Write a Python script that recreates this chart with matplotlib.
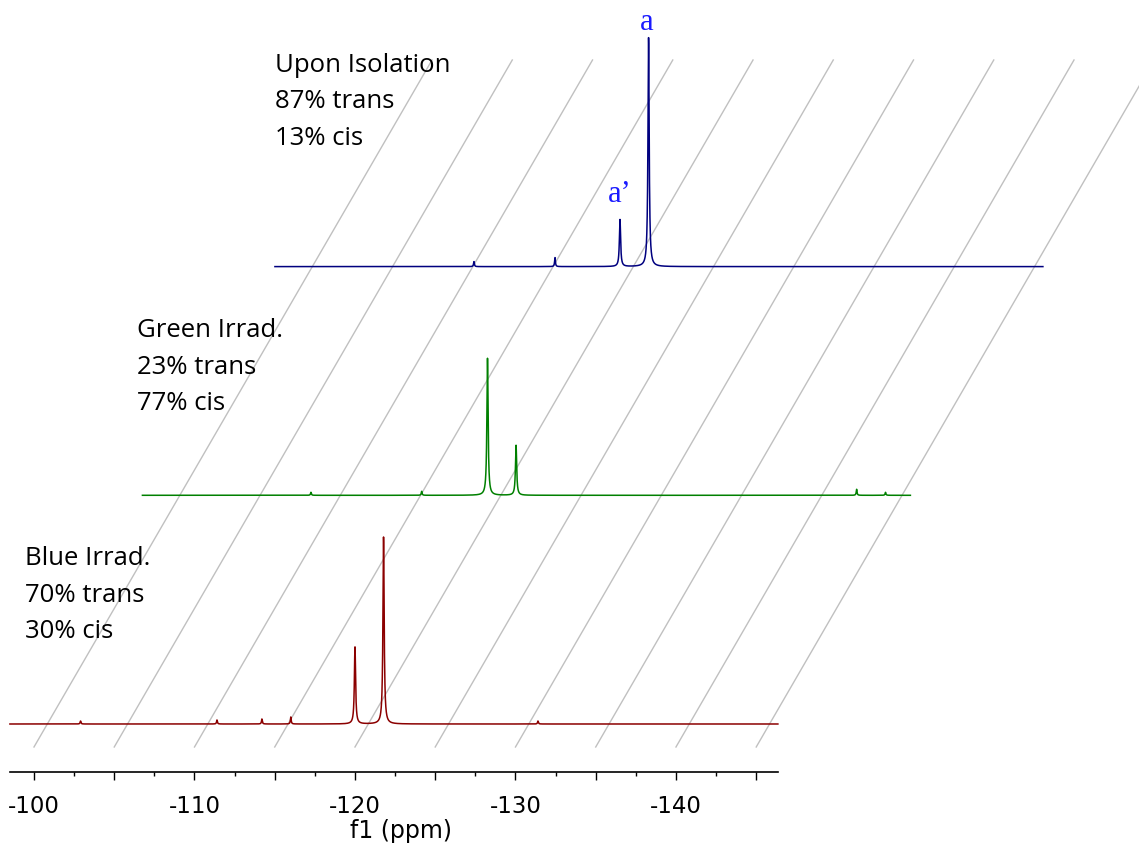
import numpy as np
import matplotlib.pyplot as plt

# spectra, bottom to top
names = ["Blue Irrad.", "Green Irrad.", "Upon Isolation"]
trans_pct = [70, 23, 87]
cis_pct = [30, 77, 13]
colors = ["#8b0000", "#008000", "#00007f"]

# the two signals (ppm): cis, trans
peak_ppm = [-120.0, -121.78]
peak_heights = [[77, 187], [137, 50], [47, 229]]

# small impurity spikes on the baselines
spike_ppm = [[-102.9, -111.4, -114.2, -116.0, -131.4],
             [-109.0, -115.9, -143.0, -144.8],
             [-110.9, -115.95]]
spike_heights = [[3, 4, 5, 7, 3], [3, 4, 6, 3], [5, 9]]

ppm_start, ppm_end = -98.5, -146.35
shift_ppm, shift_y = 8.256, 228.7   # stacking offset per spectrum

major_ticks = np.arange(-100, -146, -5)
minor_ticks = np.arange(-102.5, -146, -5)


def lorentz(x, x0, h, w):
    return h * w**2 / ((x - x0)**2 + w**2)


fig = plt.figure(figsize=(11.39, 8.48), dpi=100)
ax = fig.add_axes([0, 0, 1, 1])
ax.set_xlim(-97.882, -168.85)
ax.set_ylim(-124, 724)

# slanted grid
slope = shift_ppm / shift_y
for p in major_ticks:
    ax.plot([p, p - slope * 687], [-23, 664], color="#c0c0c0", lw=1.0, zorder=1)

ppm = np.linspace(ppm_start, ppm_end, 14000)
for k in range(3):
    y = np.zeros_like(ppm)
    for x0, h in zip(peak_ppm, peak_heights[k]):
        y += lorentz(ppm, x0, h, 0.045)
    for x0, h in zip(spike_ppm[k], spike_heights[k]):
        y += lorentz(ppm, x0, h, 0.03)
    ax.plot(ppm - k * shift_ppm, y + k * shift_y, color=colors[k], lw=1.1, zorder=3)

# peak labels on the top spectrum
ax.text(peak_ppm[1] - 2 * shift_ppm + 0.1, 2 * shift_y + peak_heights[2][1] + 8, "a",
        color="#1a1aff", family="Liberation Serif", fontsize=22, ha="center", va="baseline")
ax.text(peak_ppm[0] - 2 * shift_ppm, 2 * shift_y + peak_heights[2][0] + 18, "a\u2019",
        color="#1a1aff", family="Liberation Serif", fontsize=22, ha="center", va="baseline")

# labels
label_pos = [(25, 565), (137, 337), (275, 72)]
for k in range(3):
    lines = [names[k], f"{trans_pct[k]}% trans", f"{cis_pct[k]}% cis"]
    x0, y0 = label_pos[k]
    for i, s in enumerate(lines):
        fig.text(x0 / 1139, 1 - (y0 + i * 36.5) / 848, s, family="Open Sans",
                 fontsize=18.5, va="baseline", ha="left")

# axis
for s in ["left", "right", "top"]:
    ax.spines[s].set_visible(False)
ax.spines["bottom"].set_position(("data", -48))
ax.spines["bottom"].set_bounds(ppm_start, ppm_end)
ax.spines["bottom"].set_linewidth(1.2)
ax.set_yticks([])
ax.set_xticks(major_ticks)
ax.set_xticklabels([f"{t:d}" if t % 10 == 0 else "" for t in major_ticks])
ax.set_xticks(minor_ticks, minor=True)
ax.tick_params(axis="x", which="major", length=5.5, width=1.0, labelsize=16.5, pad=11)
ax.tick_params(axis="x", which="minor", length=3, width=1.0)
fig.text(401 / 1139, 1 - 831 / 848, "f1 (ppm)", fontsize=17, ha="center", va="center")

fig.savefig("out.png", dpi=100)
